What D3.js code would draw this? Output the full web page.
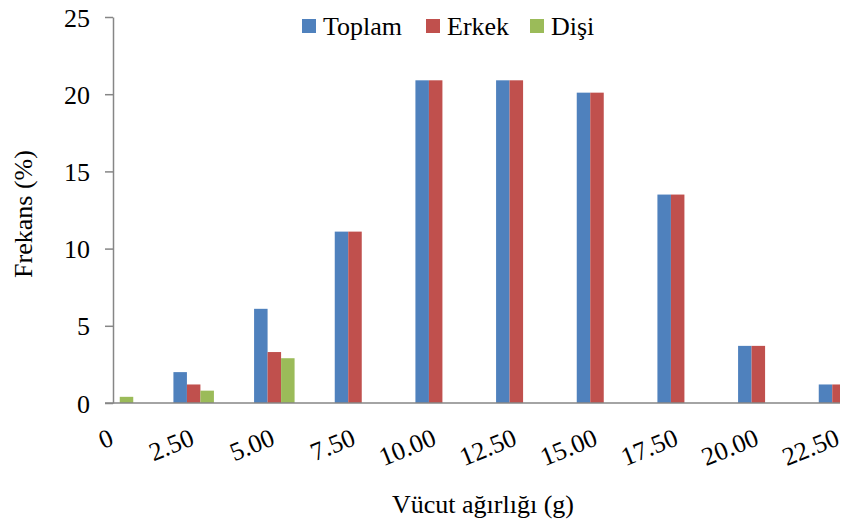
<!DOCTYPE html>
<html>
<head>
<meta charset="utf-8">
<script src="https://cdn.jsdelivr.net/npm/d3@7"></script>
<style>
  body { margin: 0; background: #fff; }
  text { font-family: "Liberation Serif", "Times New Roman", serif; fill: #000; }
</style>
</head>
<body>
<svg id="chart" width="841" height="526"></svg>
<script>
const categories = ["0", "2.50", "5.00", "7.50", "10.00", "12.50", "15.00", "17.50", "20.00", "22.50"];
const toplam = [0.4, 2.0, 6.1, 11.1, 20.9, 20.9, 20.1, 13.5, 3.7, 1.2];
const erkek  = [0.0, 1.2, 3.3, 11.1, 20.9, 20.9, 20.1, 13.5, 3.7, 1.2];
const disi   = [0.4, 0.8, 2.9, 0, 0, 0, 0, 0, 0, 0];
const seriesNames = ["Toplam", "Erkek", "Dişi"];
const yTicks = [0, 5, 10, 15, 20, 25];

(function (d3) {
    'use strict';

    const svg = d3.select("#chart");
    const colors = ["#4F81BD", "#C0504D", "#9BBB59"];
    const series = [toplam, erkek, disi];
    const fontSize = "26px";

    const left = 113, right = 839, top = 17, bottom = 403;

    // categories sit on the tick marks (first one on the y axis)
    const x = d3.scalePoint().domain(categories).range([left, right]);
    const y = d3.scaleLinear().domain([0, 25]).range([bottom, top]);
    const groupW = 40.5;
    const inner = d3.scaleBand().domain(d3.range(3)).range([-groupW / 2, groupW / 2]);

    svg.append("clipPath").attr("id", "plot-clip")
        .append("rect")
        .attr("x", left).attr("y", top - 2)
        .attr("width", right - left + 1).attr("height", bottom - top + 2);

    const bars = svg.append("g").attr("clip-path", "url(#plot-clip)");
    series.forEach((vals, s) => {
        bars.append("g")
            .selectAll("rect")
            .data(vals)
            .enter()
            .append("rect")
            .attr("x", (d, i) => x(categories[i]) + inner(s))
            .attr("width", inner.bandwidth())
            .attr("y", d => y(d))
            .attr("height", d => bottom - y(d))
            .style("fill", colors[s]);
    });

    // y axis
    const yAxis = svg.append("g")
        .attr("transform", `translate(${left},0)`)
        .call(d3.axisLeft(y).tickValues(yTicks).tickSize(8).tickPadding(15).tickSizeOuter(0));
    yAxis.select(".domain").attr("stroke", "#868686").attr("stroke-width", 1.5);
    yAxis.selectAll(".tick line").attr("stroke", "#868686").attr("stroke-width", 1.5);
    yAxis.selectAll(".tick text").style("font-size", fontSize).attr("dy", "0.35em")
        .style("font-family", "Liberation Serif");

    // x axis line
    svg.append("line")
        .attr("x1", left - 8).attr("x2", right + 1)
        .attr("y1", bottom).attr("y2", bottom)
        .attr("stroke", "#868686").attr("stroke-width", 1.5);

    // rotated category labels
    svg.append("g")
        .selectAll("text")
        .data(categories)
        .enter()
        .append("text")
        .attr("transform", d => `translate(${x(d) - 5},${bottom + 24}) rotate(-22)`)
        .attr("text-anchor", "end")
        .attr("dy", "0.72em")
        .style("font-size", fontSize)
        .text(d => d);

    // axis titles
    svg.append("text")
        .attr("x", 483).attr("y", 513)
        .attr("text-anchor", "middle")
        .style("font-size", fontSize)
        .text("Vücut ağırlığı (g)");

    svg.append("text")
        .attr("transform", `translate(32,214) rotate(-90)`)
        .attr("text-anchor", "middle")
        .style("font-size", fontSize)
        .text("Frekans (%)");

    // legend
    const legendX = [302, 426, 530];
    const legend = svg.append("g")
        .selectAll("g")
        .data(seriesNames)
        .enter()
        .append("g")
        .attr("transform", (d, i) => `translate(${legendX[i]},19)`);
    legend.append("rect")
        .attr("width", 14).attr("height", 14)
        .style("fill", (d, i) => colors[i]);
    legend.append("text")
        .attr("x", 21).attr("y", 7).attr("dy", "0.35em")
        .style("font-size", fontSize)
        .text(d => d);

}(d3));
</script>
</body>
</html>
